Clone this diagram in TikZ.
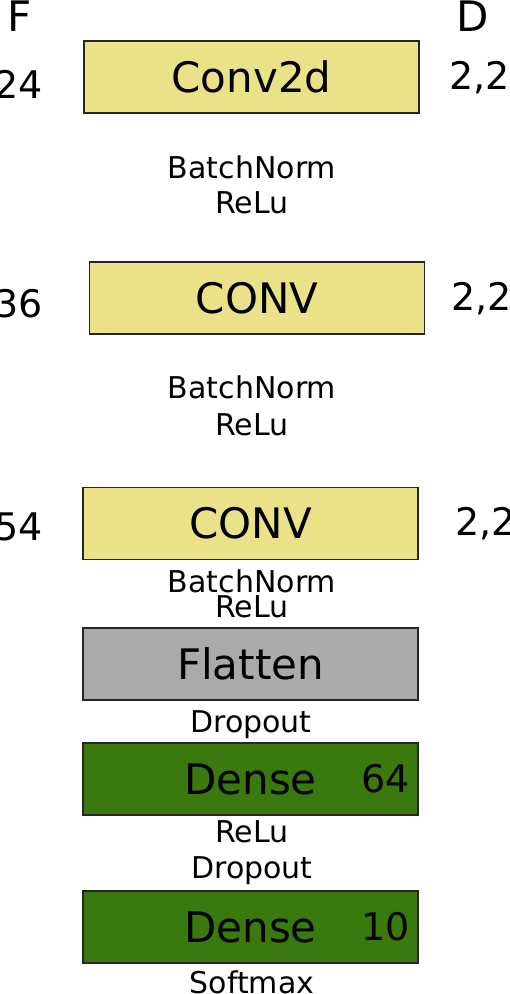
\documentclass[tikz,border=0pt]{standalone}
\usepackage{fontspec}
\setmainfont{DejaVu Sans}
\usetikzlibrary{positioning}
\definecolor{convyellow}{RGB}{233,226,136}
\definecolor{flatgray}{RGB}{170,170,170}
\definecolor{densegreen}{RGB}{58,121,14}
\tikzset{layer/.style={draw=black!85,line width=1.5pt,minimum width=335pt,minimum height=72pt,inner sep=0pt,font=\fontsize{42}{50}\selectfont}}
\tikzset{conv layer/.style={layer,fill=convyellow}}
\tikzset{flat layer/.style={layer,fill=flatgray}}
\tikzset{dense layer/.style={layer,fill=densegreen}}
\tikzset{op/.style={inner sep=0pt,anchor=base,font=\fontsize{30}{36}\selectfont}}
\tikzset{param/.style={inner sep=0pt,font=\fontsize{38}{46}\selectfont}}
\tikzset{head/.style={inner sep=0pt,anchor=base,font=\fontsize{42}{50}\selectfont}}

\begin{document}
\begin{tikzpicture}[x=1pt,y=-1pt]
\useasboundingbox (0,0) rectangle (510,994);

%column heads
\node[head] (filters) at (19.5,31) {F};
\node[head] (dilation) at (473,31) {D};

%first block
\node[conv layer] (conv1) at (251.5,77) {Conv2d};
\node[param,anchor=base east] (f1) at (43,98) {24};
\node[param,anchor=base west] (d1) at (449,89) {2,2};
\node[op] (bn1) at (252,178) {BatchNorm};
\node[op] (relu1) at (252,213) {ReLu};

%second block
\node[conv layer] (conv2) at (257,298) {CONV};
\node[param,anchor=base east] (f2) at (43,317) {36};
\node[param,anchor=base west] (d2) at (451,310) {2,2};
\node[op] (bn2) at (252,398) {BatchNorm};
\node[op] (relu2) at (252,435) {ReLu};

%third block
\node[conv layer] (conv3) at (250.5,523.5) {CONV};
\node[param,anchor=base east] (f3) at (43,540) {54};
\node[param,anchor=base west] (d3) at (455,535) {2,2};
\node[op] (bn3) at (252,592) {BatchNorm};
\node[op] (relu3) at (252,617) {ReLu};

%classifier
\node[flat layer] (flatten) at (250.5,664) {Flatten};
\node[op] (drop1) at (251,732) {Dropout};

\node[dense layer] (dense1) at (250.5,779) {Dense};
\node[param,left=9pt of dense1.east] (units1) {64};
\node[op] (relu4) at (252,842) {ReLu};
\node[op] (drop2) at (252,878) {Dropout};

\node[dense layer] (dense2) at (250.5,927) {Dense};
\node[param,left=9pt of dense2.east] (units2) {10};
\node[op] (softmax) at (252,993) {Softmax};

\end{tikzpicture}
\end{document}
